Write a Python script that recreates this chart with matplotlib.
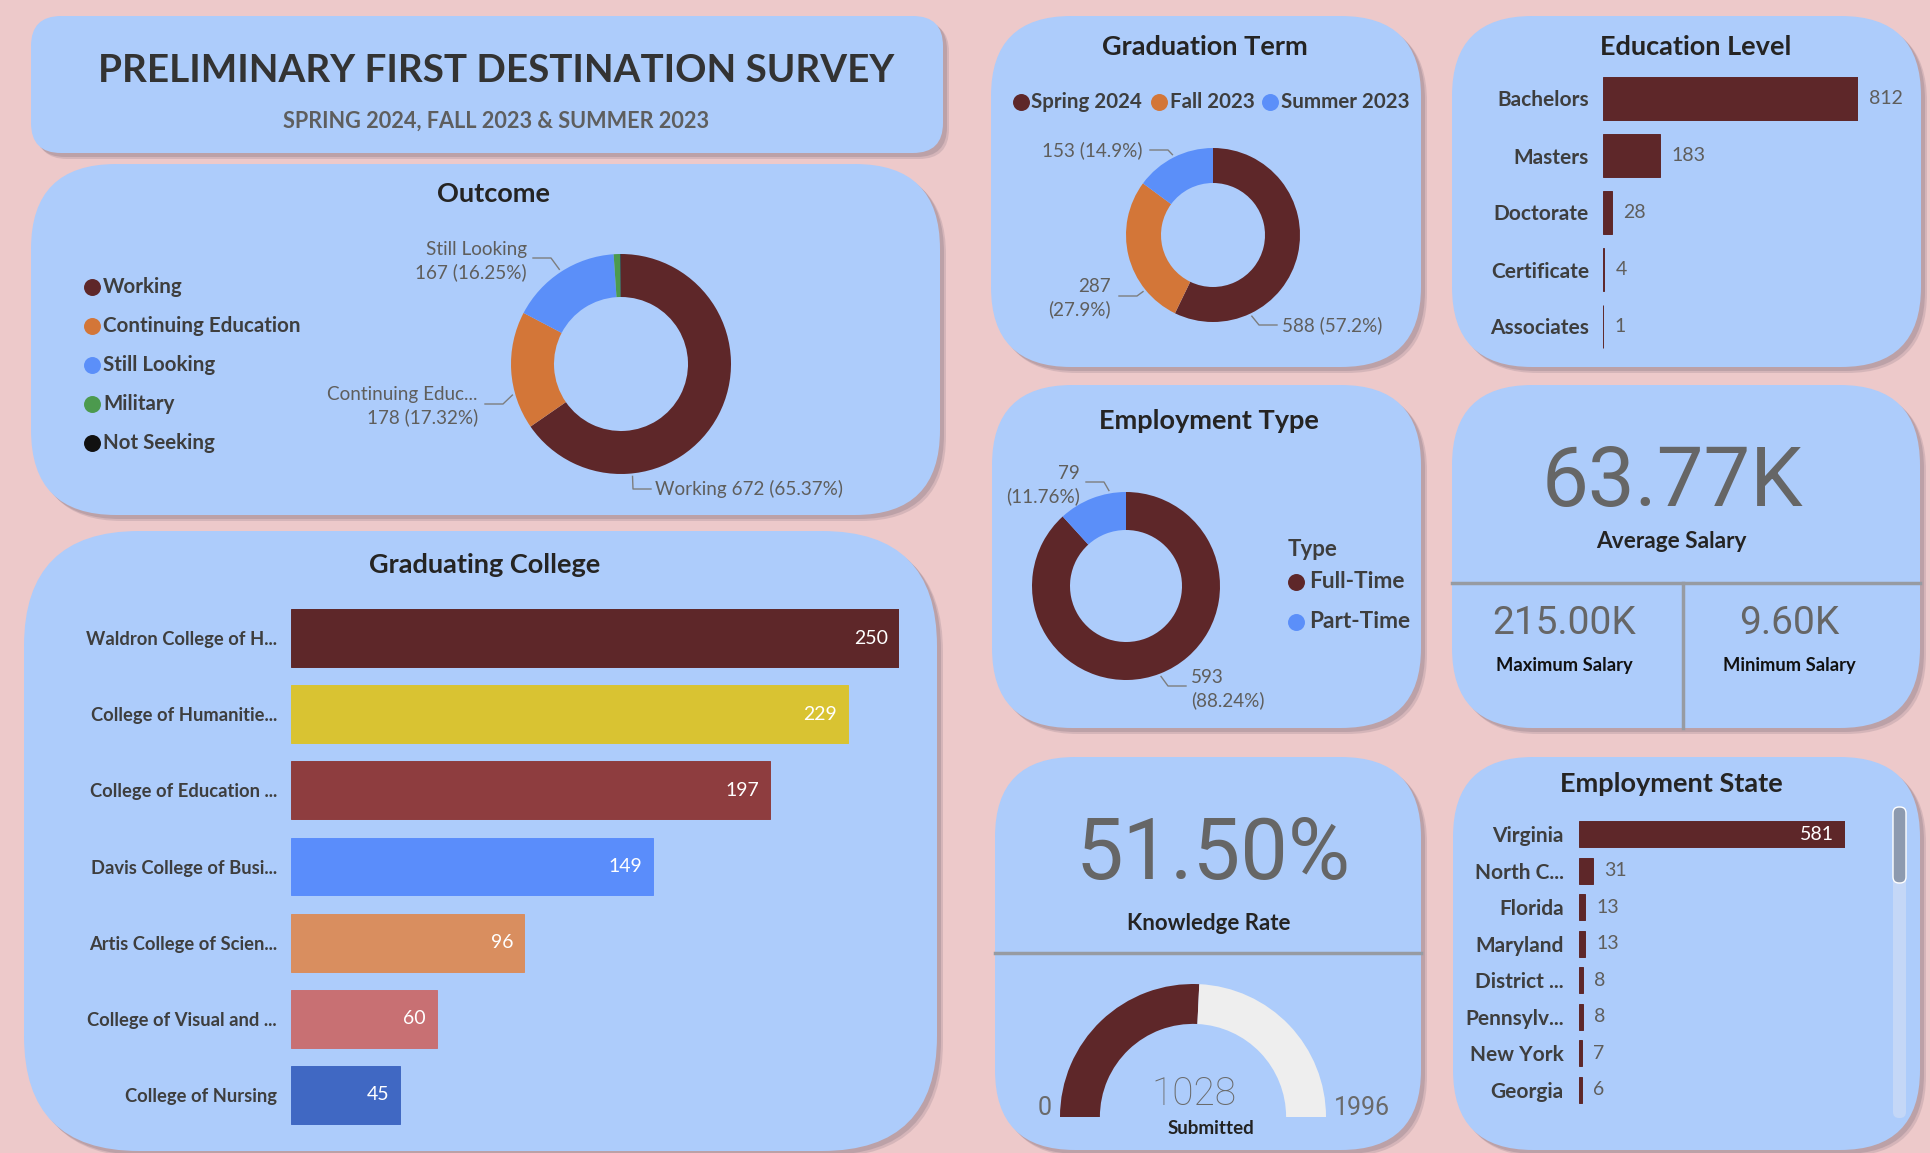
import matplotlib
matplotlib.use('Agg')
import matplotlib.pyplot as plt
from matplotlib.patches import FancyBboxPatch, Wedge
import numpy as np

plt.rcParams['font.family'] = ['Lato', 'DejaVu Sans']

# ---- data ----
outcome_labels = ['Working', 'Continuing Education', 'Still Looking', 'Military', 'Not Seeking']
outcome_values = [672, 178, 167, 10, 1]
outcome_colors = ['#5E2729', '#D37638', '#5B8FF9', '#4C9A4E', '#111111']

term_labels = ['Spring 2024', 'Fall 2023', 'Summer 2023']
term_values = [588, 287, 153]
term_colors = ['#5E2729', '#D37638', '#5B8FF9']

edu_labels = ['Bachelors', 'Masters', 'Doctorate', 'Certificate', 'Associates']
edu_values = [812, 183, 28, 4, 1]

college_labels = ['Waldron College of H...', 'College of Humanitie...', 'College of Education ...',
                  'Davis College of Busi...', 'Artis College of Scien...', 'College of Visual and ...',
                  'College of Nursing']
college_values = [250, 229, 197, 149, 96, 60, 45]
college_colors = ['#5E2729', '#D9C332', '#8E3D3F', '#5A8DFB', '#D98E5F', '#C87073', '#4068C3']

emp_type_labels = ['Full-Time', 'Part-Time']
emp_type_values = [593, 79]
emp_type_colors = ['#5E2729', '#5B8FF9']

state_labels = ['Virginia', 'North C...', 'Florida', 'Maryland', 'District ...', 'Pennsylv...',
                'New York', 'Georgia']
state_values = [581, 31, 13, 13, 8, 8, 7, 6]

avg_salary, max_salary, min_salary = '63.77K', '215.00K', '9.60K'
submitted, gauge_max = 1028, 1996

MAROON = '#5E2729'
PANEL = '#ADCCFB'
TITLE_C = '#252423'
LAB_C = '#3E3E3E'
VAL_C = '#5F5E5C'
NUM_FONT = ['Roboto', 'DejaVu Sans']
TSIZE = 19.5   # card titles
DSIZE = 13.6   # donut data labels

W, H = 1931, 1153
fig = plt.figure(figsize=(W / 100, H / 100), dpi=100)
fig.patch.set_facecolor('#EDC9CA')

bg = fig.add_axes([0, 0, 1, 1])
bg.set_xlim(0, W)
bg.set_ylim(H, 0)
bg.axis('off')


def rect(x0, y0, x1, y1):
    # pixel box (top-left origin) -> figure fraction
    return [x0 / W, 1 - y1 / H, (x1 - x0) / W, (y1 - y0) / H]


def panel(x0, y0, x1, y1, r):
    for off, a in [(6, 0.25), (4, 0.35)]:
        bg.add_patch(FancyBboxPatch((x0 + off, y0 + off), x1 - x0, y1 - y0,
                                    boxstyle=f'round,pad=0,rounding_size={r}',
                                    fc='#8E7C88', ec='none', alpha=a, zorder=1))
    bg.add_patch(FancyBboxPatch((x0, y0), x1 - x0, y1 - y0,
                                boxstyle=f'round,pad=0,rounding_size={r}',
                                fc=PANEL, ec='none', zorder=2))


def txt(x, y, s, size, color=LAB_C, weight='normal', ha='center', va='center', family=None, **kw):
    bg.text(x, y, s, fontsize=size, color=color, fontweight=weight, ha=ha, va=va,
            family=family if family else ['Lato', 'DejaVu Sans'], zorder=6, **kw)


def donut(cx, cy, ro, ri, vals, cols):
    ax = fig.add_axes(rect(cx - ro, cy - ro, cx + ro, cy + ro))
    wedges, _ = ax.pie(vals, colors=cols, startangle=90, counterclock=False, radius=1,
                       wedgeprops=dict(width=1 - ri / ro, linewidth=0))
    ax.set_xlim(-1, 1)
    ax.set_ylim(-1, 1)
    ax.set_aspect('equal')
    ax.axis('off')
    return wedges


def leader(w, t, cx, cy, ro, lx, ly, side):
    # line from label end -> short horizontal -> point on the wedge rim
    # t = 0 at the clockwise start of the wedge, 1 at its end
    a = np.radians(w.theta2 - t * (w.theta2 - w.theta1))
    ex, ey = cx + (ro + 3) * np.cos(a), cy - (ro + 3) * np.sin(a)
    hx = lx + 18 * side
    bg.plot([lx, hx, ex], [ly, ly, ey], color='#7D7D7D', lw=1, zorder=6)


def hbars(box, labels, values, colors, height, lsize, pad):
    ax = fig.add_axes(rect(*box))
    ax.set_facecolor('none')
    y = np.arange(len(values))
    ax.barh(y, values, height=height, color=colors, edgecolor=colors, linewidth=0.7)
    ax.set_xlim(0, max(values))
    ax.set_ylim(len(values) - 0.5, -0.5)
    ax.set_yticks(y)
    ax.set_yticklabels(labels, fontsize=lsize, fontweight='bold', color=LAB_C)
    ax.set_xticks([])
    ax.tick_params(axis='y', length=0, pad=pad)
    for s in ax.spines.values():
        s.set_visible(False)
    return ax, y


# ---- panels ----
panel(31, 16, 943, 153, 30)
panel(31, 164, 940, 515, 85)
panel(24, 531, 937, 1151, 115)
panel(991, 16, 1421, 367, 80)
panel(1452, 16, 1921, 367, 80)
panel(992, 385, 1421, 728, 80)
panel(1452, 385, 1920, 728, 80)
panel(995, 757, 1421, 1150, 80)
panel(1453, 757, 1920, 1150, 80)

# ---- title ----
txt(496, 71, 'PRELIMINARY FIRST DESTINATION SURVEY', 27.8, color='#333333', weight='bold')
txt(496, 121, 'SPRING 2024, FALL 2023 & SUMMER 2023', 15.6, color='#5E5E5E', weight='bold')

# ---- outcome donut ----
txt(494, 194, 'Outcome', TSIZE, color=TITLE_C, weight='bold')
for i, (lab, col) in enumerate(zip(outcome_labels, outcome_colors)):
    yy = 287 + i * 39
    bg.scatter([92], [yy], s=125, color=col, zorder=6)
    txt(103, yy, lab, 14.8, weight='bold', ha='left')

ocx, ocy, oro = 621, 364, 110
ow = donut(ocx, ocy, oro, 67, outcome_values, outcome_colors)
otot = sum(outcome_values)
opct = [f'{v} ({v / otot * 100:.2f}%)' for v in outcome_values]
txt(527, 261, 'Still Looking\n' + opct[2], DSIZE, color=VAL_C, ha='right', linespacing=1.3)
leader(ow[2], 0.5, ocx, ocy, oro, 533, 258, 1)
txt(478, 406, 'Continuing Educ...\n' + opct[1], DSIZE, color=VAL_C, ha='right', linespacing=1.3)
leader(ow[1], 0.3, ocx, ocy, oro, 485, 404, 1)
txt(655, 489, 'Working ' + opct[0], DSIZE, color=VAL_C, ha='left')
leader(ow[0], 0.74, ocx, ocy, oro, 651, 489, -1)

# ---- graduating college bars ----
txt(485, 565, 'Graduating College', TSIZE, color=TITLE_C, weight='bold')
ax, yy = hbars((291, 600, 899, 1133), college_labels, college_values, college_colors,
               0.76, 13.2, 10)
for i, v in zip(yy, college_values):
    ax.annotate(str(v), (v, i), xytext=(-8, 0), textcoords='offset points',
                ha='right', va='center', color='white', fontsize=14)

# ---- graduation term donut ----
txt(1205, 47, 'Graduation Term', TSIZE, color=TITLE_C, weight='bold')
for dx, tx, lab, col in zip([1021, 1159, 1270], [1031, 1170, 1281], term_labels, term_colors):
    bg.scatter([dx], [102], s=125, color=col, zorder=6)
    txt(tx, 102, lab, 14.8, weight='bold', ha='left')
tcx, tcy, tro = 1213, 235, 87
tw = donut(tcx, tcy, tro, 52, term_values, term_colors)
ttot = sum(term_values)
tp = [f'{v / ttot * 100:.1f}%' for v in term_values]
txt(1143, 150, f'{term_values[2]} ({tp[2]})', DSIZE, color=VAL_C, ha='right')
leader(tw[2], 0.5, tcx, tcy, tro, 1150, 150, 1)
txt(1111, 298, f'{term_values[1]}\n({tp[1]})', DSIZE, color=VAL_C, ha='right', linespacing=1.3)
leader(tw[1], 0.25, tcx, tcy, tro, 1119, 296, 1)
txt(1282, 325, f'{term_values[0]} ({tp[0]})', DSIZE, color=VAL_C, ha='left')
leader(tw[0], 0.75, tcx, tcy, tro, 1277, 325, -1)

# ---- education level bars ----
txt(1696, 47, 'Education Level', TSIZE, color=TITLE_C, weight='bold')
ax, yy = hbars((1603, 70, 1858, 355), edu_labels, edu_values, MAROON, 0.76, 15, 10)
for i, v in zip(yy, edu_values):
    ax.annotate(str(v), (v, i), xytext=(8, 0), textcoords='offset points',
                ha='left', va='center', color=VAL_C, fontsize=14, annotation_clip=False)

# ---- employment type donut ----
txt(1209, 421, 'Employment Type', TSIZE, color=TITLE_C, weight='bold')
ecx, ecy, ero = 1126, 586, 94
ew = donut(ecx, ecy, ero, 56, emp_type_values, emp_type_colors)
etot = sum(emp_type_values)
ep = [f'{v / etot * 100:.2f}%' for v in emp_type_values]
txt(1080, 485, f'{emp_type_values[1]}\n({ep[1]})', DSIZE, color=VAL_C, ha='right', linespacing=1.3)
leader(ew[1], 0.76, ecx, ecy, ero, 1086, 482, 1)
txt(1191, 689, f'{emp_type_values[0]}\n({ep[0]})', DSIZE, color=VAL_C, ha='left', linespacing=1.3)
leader(ew[0], 0.5, ecx, ecy, ero, 1186, 686, -1)
txt(1288, 549, 'Type', 16, weight='bold', ha='left')
for i, (lab, col) in enumerate(zip(emp_type_labels, emp_type_colors)):
    bg.scatter([1296], [582 + i * 40], s=125, color=col, zorder=6)
    txt(1309, 582 + i * 40, lab, 16.3, weight='bold', ha='left')

# ---- salary cards ----
txt(1672, 483, avg_salary, 60, color='#666666', family=NUM_FONT)
txt(1671, 541, 'Average Salary', 16.3, color=TITLE_C, weight='bold')
bg.plot([1452, 1920], [583, 583], color='#979BA2', lw=2.5, zorder=5)
bg.plot([1683, 1683], [583, 728], color='#979BA2', lw=2.5, zorder=5)
txt(1564, 624, max_salary, 28, color='#666666', family=NUM_FONT)
txt(1564, 665, 'Maximum Salary', 13.2, color='#111111', weight='bold')
txt(1789, 624, min_salary, 28, color='#666666', family=NUM_FONT)
txt(1789, 665, 'Minimum Salary', 13.2, color='#111111', weight='bold')

# ---- knowledge rate + gauge ----
txt(1213, 856, f'{submitted / gauge_max * 100:.2f}%', 61, color='#666666', family=NUM_FONT)
txt(1209, 923, 'Knowledge Rate', 16, color=TITLE_C, weight='bold')
bg.plot([995, 1421], [953, 953], color='#979BA2', lw=2.5, zorder=5)
gx = fig.add_axes(rect(1060, 984, 1326, 1117))
theta = 180 - 180 * submitted / gauge_max
gx.add_patch(Wedge((0, 0), 1, theta, 180, width=0.3, color=MAROON, lw=0))
gx.add_patch(Wedge((0, 0), 1, 0, theta, width=0.3, color='#EEEEEE', lw=0))
gx.set_xlim(-1, 1)
gx.set_ylim(0, 1)
gx.axis('off')
txt(1194, 1094, str(submitted), 28, color='#6A6A6A', weight='light', family=NUM_FONT)
txt(1211, 1128, 'Submitted', 13.5, color='#222222', weight='bold')
txt(1045, 1108, '0', 18, color='#6A6A6A', family=NUM_FONT)
txt(1362, 1108, str(gauge_max), 18, color='#6A6A6A', family=NUM_FONT)

# ---- employment state bars ----
txt(1671, 784, 'Employment State', TSIZE, color=TITLE_C, weight='bold')
ax, yy = hbars((1579, 816, 1845, 1108), state_labels, state_values, MAROON, 0.72, 15, 11)
for i, v in zip(yy, state_values):
    if v == max(state_values):
        ax.annotate(str(v), (v, i), xytext=(-8, 0), textcoords='offset points',
                    ha='right', va='center', color='white', fontsize=14)
    else:
        ax.annotate(str(v), (v, i), xytext=(8, 0), textcoords='offset points',
                    ha='left', va='center', color=VAL_C, fontsize=14)
# scrollbar
bg.add_patch(FancyBboxPatch((1893, 807), 13, 311, boxstyle='round,pad=0,rounding_size=6',
                            fc='#C4D7F7', ec='none', zorder=5))
bg.add_patch(FancyBboxPatch((1893, 807), 13, 76, boxstyle='round,pad=0,rounding_size=6',
                            fc='#8D9AAF', ec='white', lw=1, zorder=6))

fig.savefig('out.png', dpi=100, facecolor=fig.get_facecolor())
